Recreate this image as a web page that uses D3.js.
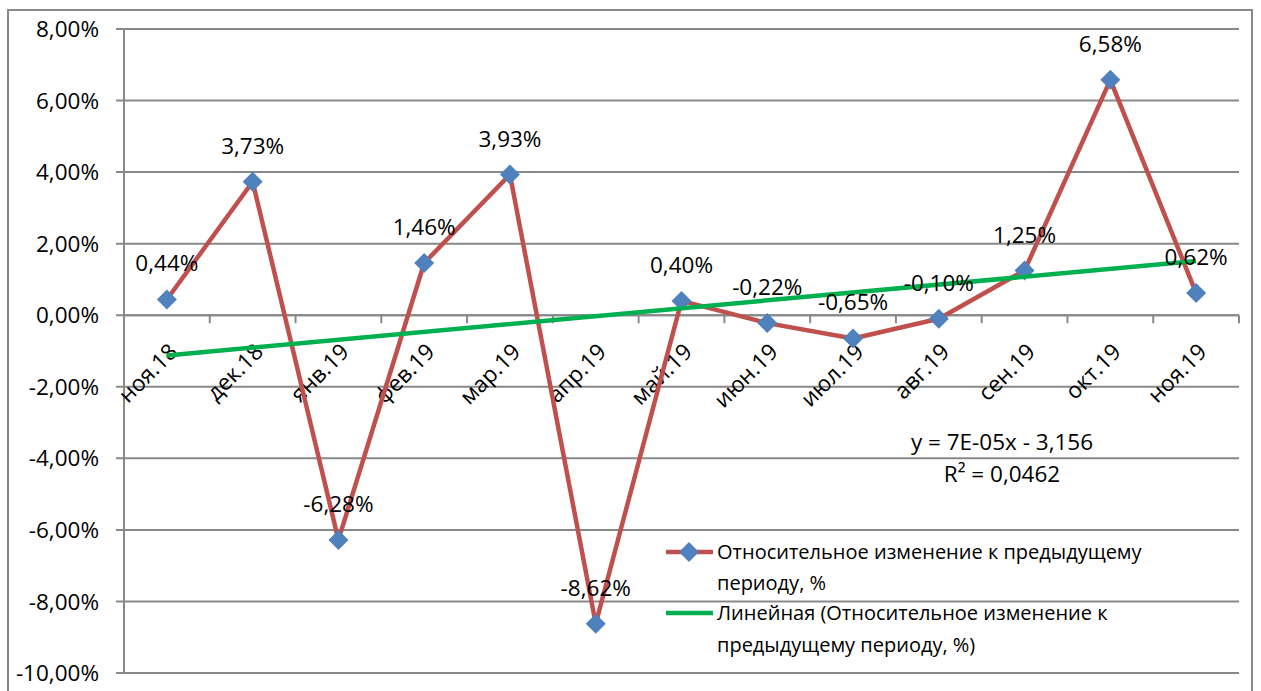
<!DOCTYPE html>
<html><head><meta charset="utf-8">
<script src="https://cdn.jsdelivr.net/npm/d3@7"></script>
<style>
body{margin:0;background:#fff;}
svg text{font-family:"Open Sans","Noto Sans",sans-serif;fill:#000;}
</style></head>
<body><svg id="c" width="1261" height="691"></svg>
<script>
const categories = ["ноя.18","дек.18","янв.19","фев.19","мар.19","апр.19","май.19","июн.19","июл.19","авг.19","сен.19","окт.19","ноя.19"];
const values = [0.44, 3.73, -6.28, 1.46, 3.93, -8.62, 0.40, -0.22, -0.65, -0.10, 1.25, 6.58, 0.62];
const valueLabels = ["0,44%","3,73%","-6,28%","1,46%","3,93%","-8,62%","0,40%","-0,22%","-0,65%","-0,10%","1,25%","6,58%","0,62%"];
const yTicks = [8,6,4,2,0,-2,-4,-6,-8,-10];
const yTickLabels = ["8,00%","6,00%","4,00%","2,00%","0,00%","-2,00%","-4,00%","-6,00%","-8,00%","-10,00%"];
const seriesName = ["Относительное изменение к предыдущему", "периоду, %"];
const trendName = ["Линейная (Относительное изменение к", "предыдущему периоду, %)"];
const equation = ["y = 7E-05x - 3,156", "R² = 0,0462"];

const svg = d3.select("#c");
const L = 124, R = 1239, T = 29, B = 673;
const gridColor = "#898989";
const numFont = "22.5px";

svg.append("rect").attr("x",8).attr("y",10).attr("width",1244).attr("height",700)
  .attr("fill","none").attr("stroke",gridColor).attr("stroke-width",2);

const x = d3.scaleBand().domain(categories).range([L,R]).padding(0);
const y = d3.scaleLinear().domain([-10,8]).range([B,T]);
const cx = d => x(d) + x.bandwidth()/2;

// gridlines
svg.append("g").selectAll("line").data(yTicks).join("line")
  .attr("x1",L-8).attr("x2",R).attr("y1",d=>y(d)).attr("y2",d=>y(d))
  .attr("stroke",gridColor).attr("stroke-width",2);
// y axis line
svg.append("line").attr("x1",L).attr("x2",L).attr("y1",T).attr("y2",B)
  .attr("stroke",gridColor).attr("stroke-width",2);
// y labels
svg.append("g").selectAll("text").data(yTicks).join("text")
  .attr("x",99).attr("y",d=>y(d)).attr("dy","0.36em").attr("text-anchor","end")
  .style("font-size",numFont).text((d,i)=>yTickLabels[i]);

// x axis at 0
const y0 = y(0);
svg.append("line").attr("x1",L).attr("x2",R).attr("y1",y0).attr("y2",y0)
  .attr("stroke",gridColor).attr("stroke-width",2);
const bounds = d3.range(categories.length+1).map(i => L + i*x.bandwidth());
svg.append("g").selectAll("line").data(bounds).join("line")
  .attr("x1",d=>d).attr("x2",d=>d).attr("y1",y0).attr("y2",y0+8)
  .attr("stroke",gridColor).attr("stroke-width",2);
svg.append("g").selectAll("text").data(categories).join("text")
  .attr("transform",d=>`translate(${cx(d)+12},${y0+38}) rotate(-45)`)
  .attr("text-anchor","end")
  .style("font-size","22.5px").text(d=>d);

// trend line (least squares over category index)
const n = values.length;
const xs = d3.range(n);
const mx = d3.mean(xs), my = d3.mean(values);
const slope = d3.sum(xs, i => (i-mx)*(values[i]-my)) / d3.sum(xs, i => (i-mx)*(i-mx));
const icpt = my - slope*mx;

// series line
svg.append("path").datum(values)
  .attr("d", d3.line().x((d,i)=>cx(categories[i])).y(d=>y(d)))
  .attr("fill","none").attr("stroke","#C0504D").attr("stroke-width",4.5).attr("stroke-linejoin","round");
// markers
svg.append("g").selectAll("path").data(values).join("path")
  .attr("d", d3.symbol(d3.symbolSquare, 200))
  .attr("transform",(d,i)=>`translate(${cx(categories[i])},${y(d)}) rotate(45)`)
  .attr("fill","#4F81BD");

svg.append("line")
  .attr("x1",cx(categories[0])).attr("y1",y(icpt))
  .attr("x2",cx(categories[n-1])).attr("y2",y(icpt+slope*(n-1)))
  .attr("stroke","#00B050").attr("stroke-width",4.5);

// data labels
svg.append("g").selectAll("text").data(values).join("text")
  .attr("x",(d,i)=>cx(categories[i])).attr("y",d=>y(d)-28)
  .attr("text-anchor","middle").style("font-size",numFont)
  .text((d,i)=>valueLabels[i]);

// equation
svg.append("g").selectAll("text").data(equation).join("text")
  .attr("x",1002).attr("y",(d,i)=>450+i*32).attr("text-anchor","middle")
  .style("font-size",numFont).text(d=>d);

// legend
const lg = svg.append("g");
lg.append("line").attr("x1",666).attr("x2",713).attr("y1",552).attr("y2",552)
  .attr("stroke","#C0504D").attr("stroke-width",4.5);
lg.append("path").attr("d",d3.symbol(d3.symbolSquare,200))
  .attr("transform","translate(689,552) rotate(45)").attr("fill","#4F81BD");
lg.append("line").attr("x1",666).attr("x2",713).attr("y1",613).attr("y2",613)
  .attr("stroke","#00B050").attr("stroke-width",4.5);
const legendRows = [[seriesName[0],552],[seriesName[1],583],[trendName[0],613],[trendName[1],645]];
lg.selectAll("text").data(legendRows).join("text")
  .attr("x",717).attr("y",d=>d[1]).attr("dy","0.36em")
  .style("font-size","20px").text(d=>d[0]);
</script></body></html>
